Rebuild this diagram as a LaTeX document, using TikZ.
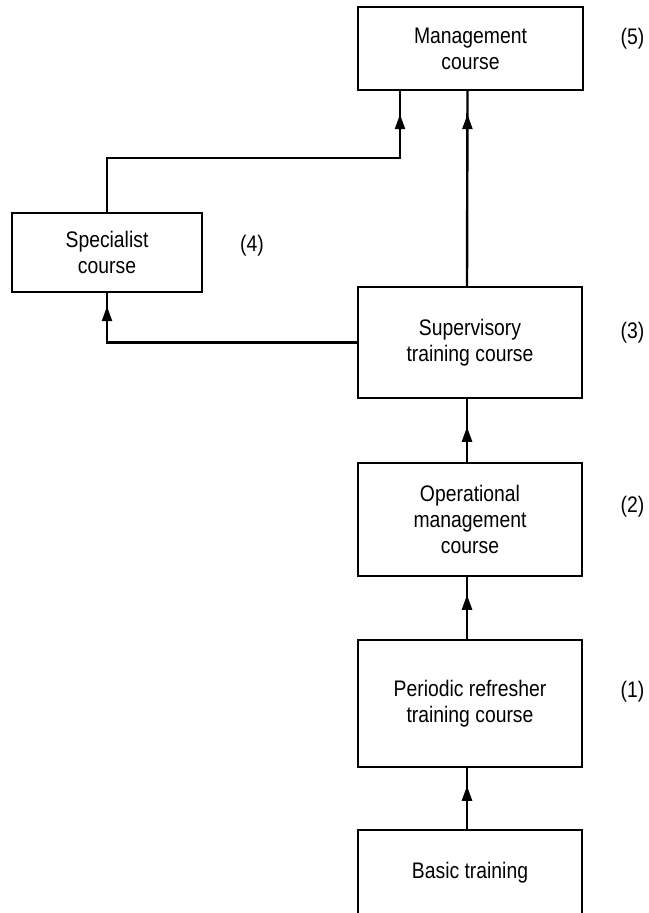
\documentclass[tikz,border=0pt]{standalone}
\usepackage{fontspec}
\setmainfont{Liberation Sans}[FakeStretch=0.86]
\usetikzlibrary{arrows.meta,decorations.markings}
\begin{document}
\begin{tikzpicture}[x=1pt,y=-1pt,
  box/.style={draw, line width=2.4pt, inner sep=0pt, align=center,
    font=\fontsize{22.5}{26}\selectfont},
  lbl/.style={font=\fontsize{22.5}{26}\selectfont, inner sep=0pt},
  conn/.style={line width=2.4pt},
  arrowat/.style={postaction={decorate}, decoration={markings,
    mark=at position #1 with {\arrow{Triangle[length=15pt,width=10pt]}}}}]
\useasboundingbox (0,0) rectangle (648,913);
\clip (0,0) rectangle (648,913);
\node[box, minimum width=225pt, minimum height=83pt] (mgmt) at (470.5,48.5) {Management\\course};
\node[box, minimum width=190pt, minimum height=79pt] (spec) at (107,252.5) {Specialist\\course};
\node[box, minimum width=224pt, minimum height=111pt] (sup) at (470,342.5) {Supervisory\\training course};
\node[box, minimum width=224pt, minimum height=113pt] (op) at (470,519.5) {Operational\\management\\course};
\node[box, minimum width=224pt, minimum height=127pt] (per) at (470,703.5) {Periodic refresher\\training course};
\node[box, minimum width=224pt, minimum height=86pt] (basic) at (470,873) {Basic training};

\node[lbl] (l5) at (632.5,39) {(5)};
\node[lbl] (l4) at (252,246) {(4)};
\node[lbl] (l3) at (632.5,333) {(3)};
\node[lbl] (l2) at (632.5,507) {(2)};
\node[lbl] (l1) at (632.5,692) {(1)};

\coordinate (j) at (400,158);
\draw[conn, arrowat=43pt] ([xshift=-3pt]basic.north) -- ([xshift=-3pt]per.south);
\draw[conn, arrowat=44pt] ([xshift=-3pt]per.north) -- ([xshift=-3pt]op.south);
\draw[conn, arrowat=35pt] ([xshift=-3pt]op.north) -- ([xshift=-3pt]sup.south);
\draw[conn, arrowat=-23pt] ([xshift=-3pt]sup.north) -- ([xshift=-3pt]mgmt.south);
\draw[conn, arrowat=-13pt] (sup.west) -| (spec.south);
\draw[conn, arrowat=-23pt] (spec.north) |- (j) -- (j |- mgmt.south);
\end{tikzpicture}
\end{document}
